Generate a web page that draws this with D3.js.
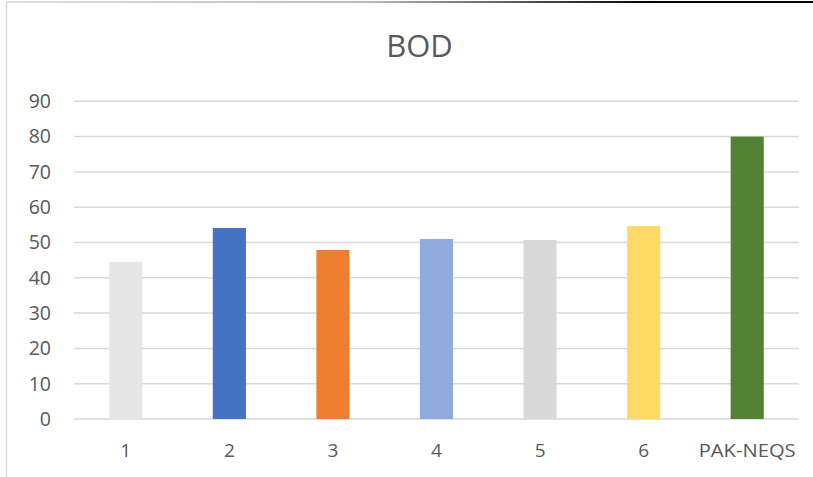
<!DOCTYPE html>
<html><head><meta charset="utf-8">
<script src="https://cdn.jsdelivr.net/npm/d3@7"></script>
<style>body{margin:0;background:#fff}svg{display:block}text{font-family:"Open Sans","Noto Sans",sans-serif}</style>
</head><body><svg id="c" width="813" height="477"></svg>
<script>
const categories = ["1","2","3","4","5","6","PAK-NEQS"];
const values = [44.5, 54.1, 47.9, 51.0, 50.7, 54.7, 80];
const colors = ["#E7E6E6","#4472C4","#ED7D31","#8FAADC","#D9D9D9","#FFD966","#548235"];
const yTicks = [0,10,20,30,40,50,60,70,80,90];
const title = "BOD";

const svg = d3.select("#c");
const m = {left:74, right:799, top:101.3, bottom:419};
const x = d3.scaleBand().domain(categories).range([m.left, m.right]).paddingInner(0.68).paddingOuter(0.34);
const y = d3.scaleLinear().domain([0,90]).range([m.bottom, m.top]);

// frame artifacts
const defs = svg.append("defs");
const g = defs.append("linearGradient").attr("id","tg").attr("x1","0").attr("x2","1");
g.append("stop").attr("offset","0").attr("stop-color","#e0e0e0");
g.append("stop").attr("offset","0.45").attr("stop-color","#bbbbbb");
g.append("stop").attr("offset","0.8").attr("stop-color","#000");
g.append("stop").attr("offset","1").attr("stop-color","#000");
svg.append("rect").attr("x",6).attr("y",1).attr("width",807).attr("height",2).attr("fill","url(#tg)");
svg.append("line").attr("x1",6.5).attr("x2",6.5).attr("y1",2).attr("y2",477).attr("stroke","#d9d9d9").attr("stroke-width",1.5);

// gridlines
svg.append("g").selectAll("line").data(yTicks).join("line")
  .attr("x1",m.left).attr("x2",m.right)
  .attr("y1",d=>y(d)).attr("y2",d=>y(d))
  .attr("stroke","#d9d9d9").attr("stroke-width",1.5);

// bars
svg.append("g").selectAll("rect").data(values).join("rect")
  .attr("x",(d,i)=>x(categories[i]))
  .attr("width",x.bandwidth())
  .attr("y",d=>y(d))
  .attr("height",d=>y(0)-y(d))
  .attr("fill",(d,i)=>colors[i]);

// y axis labels
svg.append("g").selectAll("text").data(yTicks).join("text")
  .attr("x",51).attr("y",d=>y(d)).attr("dy","0.35em")
  .attr("text-anchor","end").attr("font-size",19.5).attr("fill","#595959")
  .text(d=>d);

// x labels
svg.append("g").selectAll("text").data(categories).join("text")
  .attr("x",d=>x(d)+x.bandwidth()/2).attr("y",457)
  .attr("text-anchor","middle").attr("font-size",19).attr("fill","#595959")
  .each(function(d){ if(d.length>3) d3.select(this).attr("textLength",97).attr("lengthAdjust","spacingAndGlyphs"); })
  .text(d=>d);

svg.append("text").attr("x",419.5).attr("y",56.7).attr("text-anchor","middle")
  .attr("font-size",31).attr("fill","#595959").text(title);
</script></body></html>
